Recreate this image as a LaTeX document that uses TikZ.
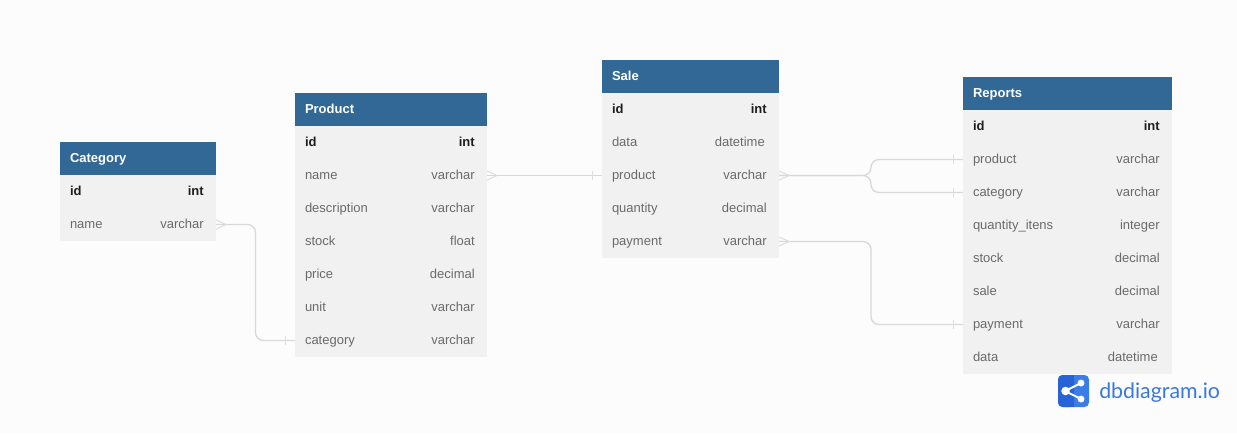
\documentclass[tikz,border=0pt]{standalone}
\usepackage{fontspec}
\setmainfont{Liberation Sans}
\newfontfamily\logofont{Lato}
\definecolor{pagebg}{HTML}{FCFCFC}
\definecolor{headblue}{HTML}{316896}
\definecolor{rowgray}{HTML}{F1F1F1}
\definecolor{fieldgray}{HTML}{6A6A6A}
\definecolor{keyblack}{HTML}{1E1E1E}
\definecolor{linkgray}{HTML}{D8D8D8}
\definecolor{endgray}{HTML}{DDDDDD}
\definecolor{logodark}{HTML}{2763D6}
\definecolor{logolight}{HTML}{3B7DE8}
\definecolor{logotext}{HTML}{3A78DD}
\tikzset{
  x=0.75pt,y=-0.75pt,
  headbox/.style={rectangle,fill=headblue,draw=none,anchor=north west,inner sep=0pt,outer sep=0pt,minimum height=24.75pt},
  rowbox/.style={rectangle,fill=rowgray,draw=none,anchor=north west,inner sep=0pt,outer sep=0pt,minimum height=24.75pt},
  headtext/.style={text=white,font=\fontsize{9.75}{12}\selectfont\bfseries,anchor=base west,inner sep=0pt},
  fieldtext/.style={text=fieldgray,font=\fontsize{9.75}{12}\selectfont,inner sep=0pt},
  keytext/.style={text=keyblack,font=\fontsize{9.75}{12}\selectfont\bfseries,inner sep=0pt},
  link/.style={draw=linkgray,line width=1pt,rounded corners=6pt},
  linkend/.style={draw=endgray,line width=0.75pt,line join=miter},
}
% #1 id, #2 left, #3 width, #4 top, #5 title
\newcommand{\dbhead}[5]{%
  \node[headbox,minimum width=#3*0.75pt] (#1) at (#2,#4) {};
  \node[headtext] (#1-title) at ([xshift=7.3pt,yshift=-2.7pt]#1.west) {#5};
}
% #1 id, #2 previous row, #3 width, #4 name, #5 type, #6 text style
\newcommand{\dbrow}[6]{%
  \node[rowbox,minimum width=#3*0.75pt] (#1) at (#2.south west) {};
  \node[#6,anchor=base west] (#1-n) at ([xshift=7.3pt,yshift=-2.7pt]#1.west) {#4};
  \node[#6,anchor=base east] (#1-t) at ([xshift=-9pt,yshift=-2.7pt]#1.east) {#5};
}
\newcommand{\dbcrow}[1]{%
  \draw[linkend] ([yshift=3.4pt]#1.east) -- ([xshift=7.5pt]#1.east) -- ([yshift=-3.4pt]#1.east);
}
\newcommand{\dbtick}[1]{%
  \draw[linkend] ([xshift=-7.5pt,yshift=3.4pt]#1.west) -- ([xshift=-7.5pt,yshift=-3.4pt]#1.west);
}
\begin{document}
\begin{tikzpicture}
\useasboundingbox[fill=pagebg] (0,0) rectangle (1237,433);

% Category
\dbhead{cat}{60}{156}{142}{Category}
\dbrow{catid}{cat}{156}{id}{int}{keytext}
\dbrow{catname}{catid}{156}{name}{varchar}{fieldtext}

% Product
\dbhead{prod}{295}{192}{93}{Product}
\dbrow{prodid}{prod}{192}{id}{int}{keytext}
\dbrow{prodname}{prodid}{192}{name}{varchar}{fieldtext}
\dbrow{proddesc}{prodname}{192}{description}{varchar}{fieldtext}
\dbrow{prodstock}{proddesc}{192}{stock}{float}{fieldtext}
\dbrow{prodprice}{prodstock}{192}{price}{decimal}{fieldtext}
\dbrow{produnit}{prodprice}{192}{unit}{varchar}{fieldtext}
\dbrow{prodcat}{produnit}{192}{category}{varchar}{fieldtext}

% Sale
\dbhead{sale}{602}{177}{60}{Sale}
\dbrow{saleid}{sale}{177}{id}{int}{keytext}
\dbrow{saledata}{saleid}{177}{data}{datetime\kern1.5pt}{fieldtext}
\dbrow{saleprod}{saledata}{177}{product}{varchar}{fieldtext}
\dbrow{saleqty}{saleprod}{177}{quantity}{decimal}{fieldtext}
\dbrow{salepay}{saleqty}{177}{payment}{varchar}{fieldtext}

% Reports
\dbhead{rep}{963}{209}{77}{Reports}
\dbrow{repid}{rep}{209}{id}{int}{keytext}
\dbrow{repprod}{repid}{209}{product}{varchar}{fieldtext}
\dbrow{repcat}{repprod}{209}{category}{varchar}{fieldtext}
\dbrow{repqty}{repcat}{209}{quantity\_itens}{integer}{fieldtext}
\dbrow{repstock}{repqty}{209}{stock}{decimal}{fieldtext}
\dbrow{repsale}{repstock}{209}{sale}{decimal}{fieldtext}
\dbrow{reppay}{repsale}{209}{payment}{varchar}{fieldtext}
\dbrow{repdata}{reppay}{209}{data}{datetime\kern1.5pt}{fieldtext}

% Connectors
\coordinate (bendA) at (255.5,0);
\coordinate (bendB) at (871,0);
\draw[link] (catname.east) -- (catname.east -| bendA) -- (prodcat.west -| bendA) -- (prodcat.west);
\draw[link] (prodname.east) -- (saleprod.west);
\draw[link] (saleprod.east) -- (saleprod.east -| bendB) -- (repprod.west -| bendB) -- (repprod.west);
\draw[link] (saleprod.east) -- (saleprod.east -| bendB) -- (repcat.west -| bendB) -- (repcat.west);
\draw[link] (salepay.east) -- (salepay.east -| bendB) -- (reppay.west -| bendB) -- (reppay.west);

\dbcrow{catname}\dbtick{prodcat}
\dbcrow{prodname}\dbtick{saleprod}
\dbcrow{saleprod}\dbtick{repprod}\dbtick{repcat}
\dbcrow{salepay}\dbtick{reppay}

% Logo
\fill[logolight,rounded corners=3.4pt] (1058,375) rectangle (1089,407);
\fill[logodark,rounded corners=3.4pt] (1058,375) -- (1074,375) -- (1074,407) -- (1058,407) -- cycle;
\fill[logodark] (1068,375) rectangle (1074,407);
\draw[white,line width=1.5pt] (1081,383) -- (1065,391) -- (1081,399);
\fill[white] (1065.5,391) circle (3.2pt) (1081,383) circle (2.6pt) (1081,399) circle (2.6pt);
\node[text=logotext,font=\logofont\fontsize{16}{18}\selectfont,anchor=base west,inner sep=0pt] (logoname) at (1099,398) {dbdiagram.io};
\end{tikzpicture}
\end{document}
